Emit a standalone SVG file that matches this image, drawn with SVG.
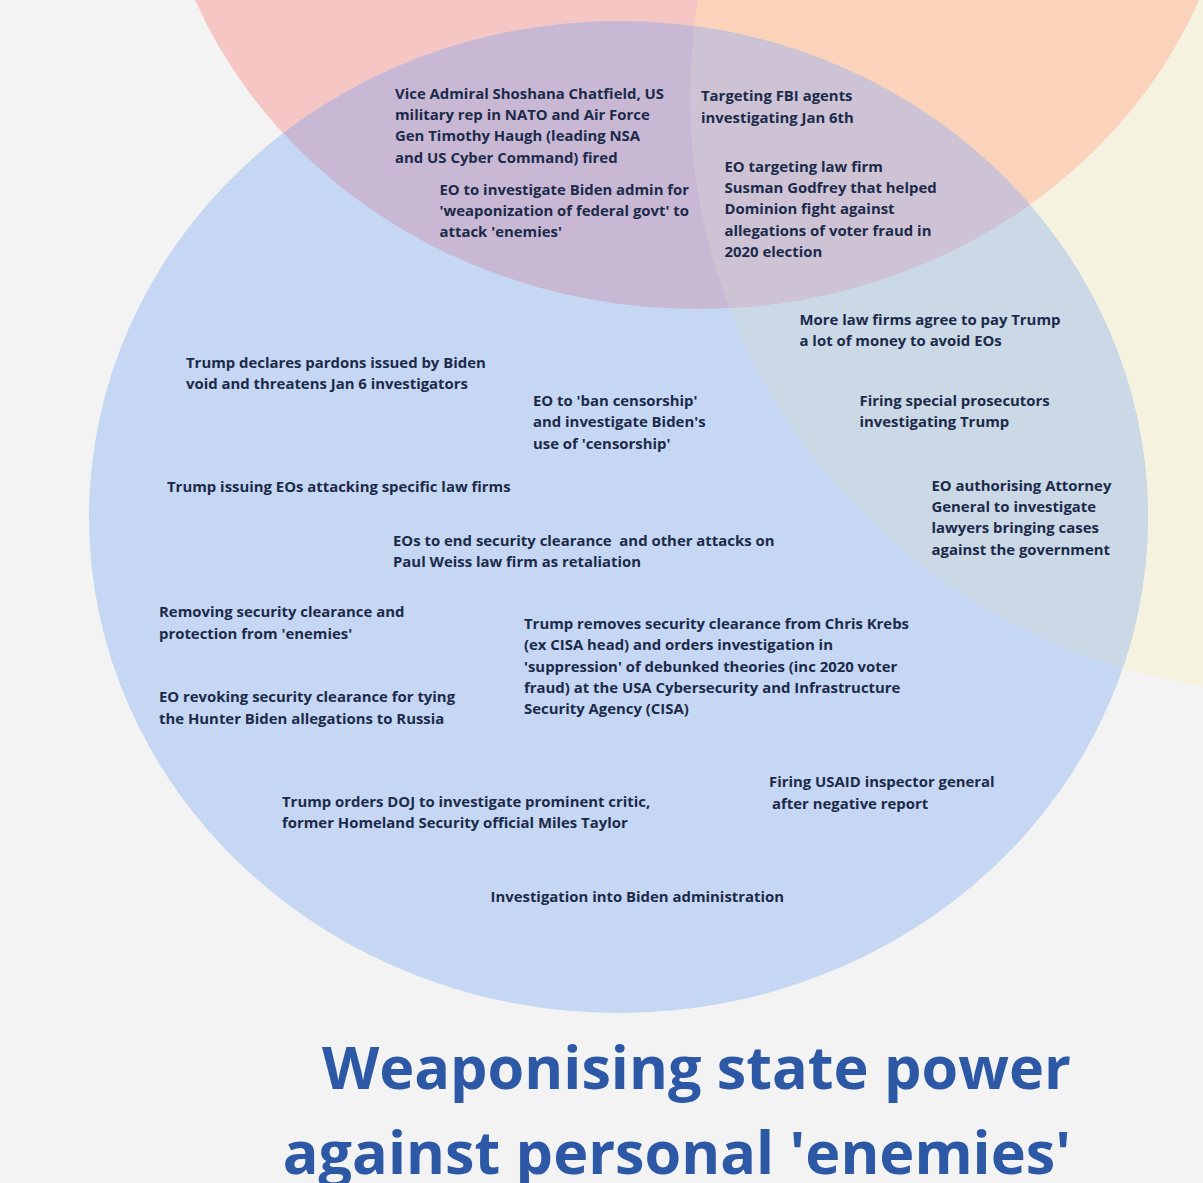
<svg xmlns="http://www.w3.org/2000/svg" width="1203" height="1183" viewBox="0 0 1203 1183">
<style>
text{font-family:"Open Sans","Noto Sans","Liberation Sans",sans-serif;white-space:pre}
.b{font-size:14.9px;font-weight:700;fill:#1c2a4a}
.t{font-size:59.3px;font-weight:700;fill:#2c58a5;text-anchor:end}
</style>
<defs>
<clipPath id="cr"><ellipse cx="697" cy="-187" rx="542" ry="496"/></clipPath>
<clipPath id="cy"><ellipse cx="1300" cy="97" rx="610" ry="597"/></clipPath>
</defs>
<rect width="1203" height="1183" fill="#f3f3f3"/>
<g id="regions">
<ellipse id="yellow" cx="1300" cy="97" rx="610" ry="597" fill="#f6f2e0"/>
<ellipse id="red" cx="697" cy="-187" rx="542" ry="496" fill="#f6c6c4"/>
<g clip-path="url(#cy)"><ellipse cx="697" cy="-187" rx="542" ry="496" fill="#fbd3bb"/></g>
<ellipse id="blue" cx="618.5" cy="517" rx="529.5" ry="496" fill="#c5d7f2"/>
<g clip-path="url(#cy)"><ellipse cx="618.5" cy="517" rx="529.5" ry="496" fill="#cbd8e6"/></g>
<g clip-path="url(#cr)"><ellipse cx="618.5" cy="517" rx="529.5" ry="496" fill="#c8b8d4"/>
<g clip-path="url(#cy)"><ellipse cx="618.5" cy="517" rx="529.5" ry="496" fill="#cdc3d5"/></g></g>
</g>
<g id="n1" class="b"><text x="395" y="98.500">Vice Admiral Shoshana Chatfield, US</text><text x="395" y="120">military rep in NATO and Air Force</text><text x="395" y="141">Gen Timothy Haugh (leading NSA</text><text x="395" y="162.500">and US Cyber Command) fired</text></g>
<g id="n2" class="b"><text x="439.500" y="195">EO to investigate Biden admin for</text><text x="439.500" y="216">'weaponization of federal govt' to</text><text x="439.500" y="237">attack 'enemies'</text></g>
<g id="n3" class="b"><text x="701" y="101">Targeting FBI agents</text><text x="701" y="122.500">investigating Jan 6th</text></g>
<g id="n4" class="b"><text x="724.500" y="171.500">EO targeting law firm</text><text x="724.500" y="193">Susman Godfrey that helped</text><text x="724.500" y="214">Dominion fight against</text><text x="724.500" y="235.500">allegations of voter fraud in</text><text x="724.500" y="256.500">2020 election</text></g>
<g id="n5" class="b"><text x="799.500" y="325">More law firms agree to pay Trump</text><text x="799.500" y="346">a lot of money to avoid EOs</text></g>
<g id="n6" class="b"><text x="186" y="368">Trump declares pardons issued by Biden</text><text x="186" y="389">void and threatens Jan 6 investigators</text></g>
<g id="n7" class="b"><text x="533" y="406">EO to 'ban censorship'</text><text x="533" y="427">and investigate Biden's</text><text x="533" y="448.500">use of 'censorship'</text></g>
<g id="n8" class="b"><text x="859.500" y="406">Firing special prosecutors</text><text x="859.500" y="427">investigating Trump</text></g>
<g id="n9" class="b"><text x="167" y="492">Trump issuing EOs attacking specific law firms</text></g>
<g id="n10" class="b"><text x="931.500" y="491">EO authorising Attorney</text><text x="931.500" y="512">General to investigate</text><text x="931.500" y="533">lawyers bringing cases</text><text x="931.500" y="554.500">against the government</text></g>
<g id="n11" class="b"><text x="393" y="546">EOs to end security clearance  and other attacks on</text><text x="393" y="567">Paul Weiss law firm as retaliation</text></g>
<g id="n12" class="b"><text x="159" y="617">Removing security clearance and</text><text x="159" y="638.500">protection from 'enemies'</text></g>
<g id="n13" class="b"><text x="524" y="629">Trump removes security clearance from Chris Krebs</text><text x="524" y="650">(ex CISA head) and orders investigation in</text><text x="524" y="671.500">'suppression' of debunked theories (inc 2020 voter</text><text x="524" y="692.500">fraud) at the USA Cybersecurity and Infrastructure</text><text x="524" y="714">Security Agency (CISA)</text></g>
<g id="n14" class="b"><text x="159" y="702">EO revoking security clearance for tying</text><text x="159" y="723.500">the Hunter Biden allegations to Russia</text></g>
<g id="n15" class="b"><text x="769" y="787">Firing USAID inspector general</text><text x="772" y="808.500">after negative report</text></g>
<g id="n16" class="b"><text x="282" y="807">Trump orders DOJ to investigate prominent critic,</text><text x="282" y="828">former Homeland Security official Miles Taylor</text></g>
<g id="n17" class="b"><text x="490.500" y="901.500">Investigation into Biden administration</text></g>
<g id="title" class="t"><text x="1071" y="1089">Weaponising state power</text><text x="1071" y="1174">against personal 'enemies'</text></g>
<g id="connectors"/>
</svg>
